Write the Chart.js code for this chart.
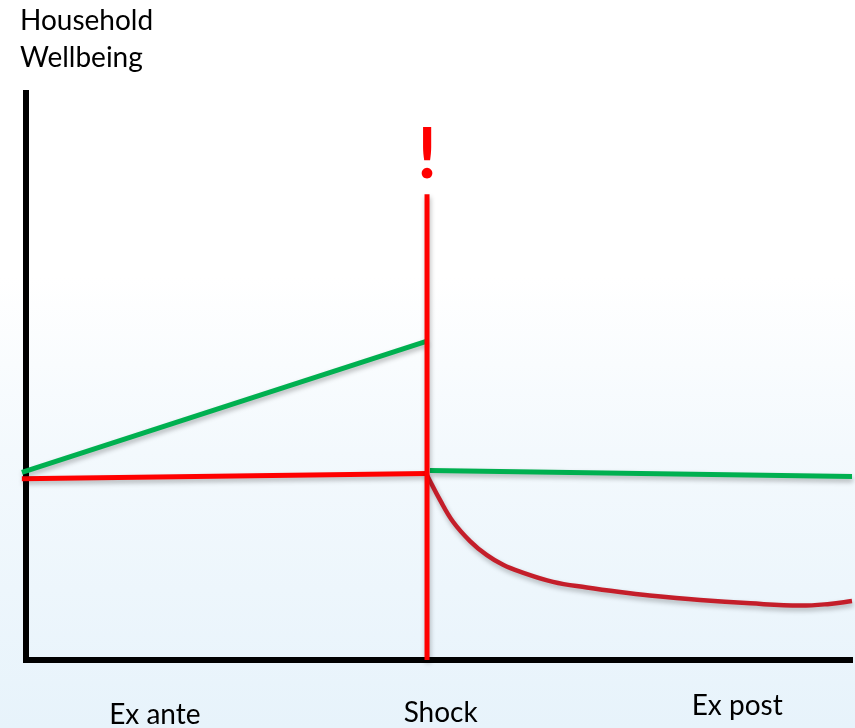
<!DOCTYPE html>
<html>
<head>
<meta charset="utf-8">
<script src="https://cdn.jsdelivr.net/npm/chart.js@4.4.1/dist/chart.umd.min.js"></script>
<style>
  html, body { margin: 0; padding: 0; }
  #wrap {
    width: 855px; height: 728px;
    background: linear-gradient(to bottom, #ffffff 0%, #ffffff 38%, #f3f9fd 62%, #e7f3fb 100%);
  }
  canvas { display: block; }
</style>
</head>
<body>
<div id="wrap"><canvas id="c" width="855" height="728"></canvas></div>
<script>
// ---- Data (axis units: x = time 0..100, y = wellbeing 0..100) ----
const yAxisTitle = ['Household', 'Wellbeing'];
const phaseLabels = ['Ex ante', 'Shock', 'Ex post'];
const phaseTickValues = [15.6, 50.2, 86.1];

const shockTime = 48.55;
const shockLineTop = 82.2;
const shockMarkLevel = 89.1;

// With ex-ante preparation (green)
const greenAnteX = [-0.5, 48.55];
const greenAnteY = [33.1, 56.3];
// Without ex-ante preparation (red)
const redAnteX = [-0.5, 48.55];
const redAnteY = [32.0, 32.9];
// Ex post with coping (green)
const greenPostX = [48.9, 100];
const greenPostY = [33.45, 32.4];
// Ex post without coping (dark red curve)
const curveX = [48.55, 50.1, 51.7, 53.75, 55.8, 57.75, 59.8, 63.8, 67.9, 71.9, 75.5, 81.6, 87.7, 93.7, 97.3, 100];
const curveY = [32.6, 28.3, 24.4, 21.0, 18.5, 16.8, 15.6, 13.8, 12.8, 12.0, 11.4, 10.6, 10.0, 9.6, 9.9, 10.4];

const zip = (xs, ys) => xs.map((x, i) => ({ x, y: ys[i] }));

const FONT = "Lato, 'Open Sans', sans-serif";

const shadowPlugin = {
  id: 'shadow',
  beforeDatasetDraw(chart) {
    const ctx = chart.ctx;
    ctx.save();
    ctx.shadowColor = 'rgba(0,0,0,0.28)';
    ctx.shadowBlur = 5;
    ctx.shadowOffsetX = 1;
    ctx.shadowOffsetY = 3;
  },
  afterDatasetDraw(chart) { chart.ctx.restore(); }
};

const labelsPlugin = {
  id: 'phaseLabels',
  afterDraw(chart) {
    const ctx = chart.ctx;
    const xs = chart.scales.x, ys = chart.scales.y;
    ctx.save();
    ctx.fillStyle = '#000';
    ctx.font = '28px ' + FONT;
    ctx.textAlign = 'center';
    ctx.textBaseline = 'alphabetic';
    const yOffsets = [64, 62, 55];
    phaseLabels.forEach((t, i) => {
      ctx.fillText(t, xs.getPixelForValue(phaseTickValues[i]), chart.chartArea.bottom + yOffsets[i]);
    });
    // shock mark
    ctx.fillStyle = '#ff0000';
    ctx.font = 'bold 70px ' + FONT;
    ctx.textBaseline = 'middle';
    ctx.fillText('!', xs.getPixelForValue(shockTime), ys.getPixelForValue(shockMarkLevel));
    ctx.restore();
  }
};

new Chart(document.getElementById('c'), {
  type: 'line',
  data: {
    datasets: [
      { data: [{x: shockTime, y: 0}, {x: shockTime, y: shockLineTop}], borderColor: '#ff0000', borderWidth: 5, order: 1 },
      { data: zip(greenAnteX, greenAnteY), borderColor: '#00b050', borderWidth: 5, order: 3 },
      { data: zip(redAnteX, redAnteY), borderColor: '#ff0000', borderWidth: 5, order: 3 },
      { data: zip(greenPostX, greenPostY), borderColor: '#00b050', borderWidth: 5, order: 2 },
      { data: zip(curveX, curveY), borderColor: '#c41e2a', borderWidth: 4.5, tension: 0.4, order: 2 }
    ]
  },
  options: {
    responsive: false,
    animation: false,
    clip: false,
    elements: { point: { radius: 0, hoverRadius: 0 }, line: { borderCapStyle: 'butt', fill: false } },
    layout: { padding: { left: 20, right: 3, top: 0, bottom: 62 } },
    plugins: {
      legend: { display: false },
      tooltip: { enabled: false },
      title: {
        display: true, text: yAxisTitle, align: 'start', color: '#000',
        font: { family: FONT, size: 28, weight: 'normal', lineHeight: 1.33 },
        padding: { top: 2, bottom: 17 }
      }
    },
    scales: {
      x: {
        type: 'linear', min: 0, max: 100,
        grid: { display: false, drawTicks: false },
        ticks: { display: false },
        border: { display: true, color: '#000', width: 6 },
        afterFit(s) { s.height = 6; }
      },
      y: {
        type: 'linear', min: 0, max: 100,
        grid: { display: false, drawTicks: false },
        ticks: { display: false },
        border: { display: true, color: '#000', width: 6 },
        afterFit(s) { s.width = 6; }
      }
    }
  },
  plugins: [shadowPlugin, labelsPlugin]
});
</script>
</body>
</html>
